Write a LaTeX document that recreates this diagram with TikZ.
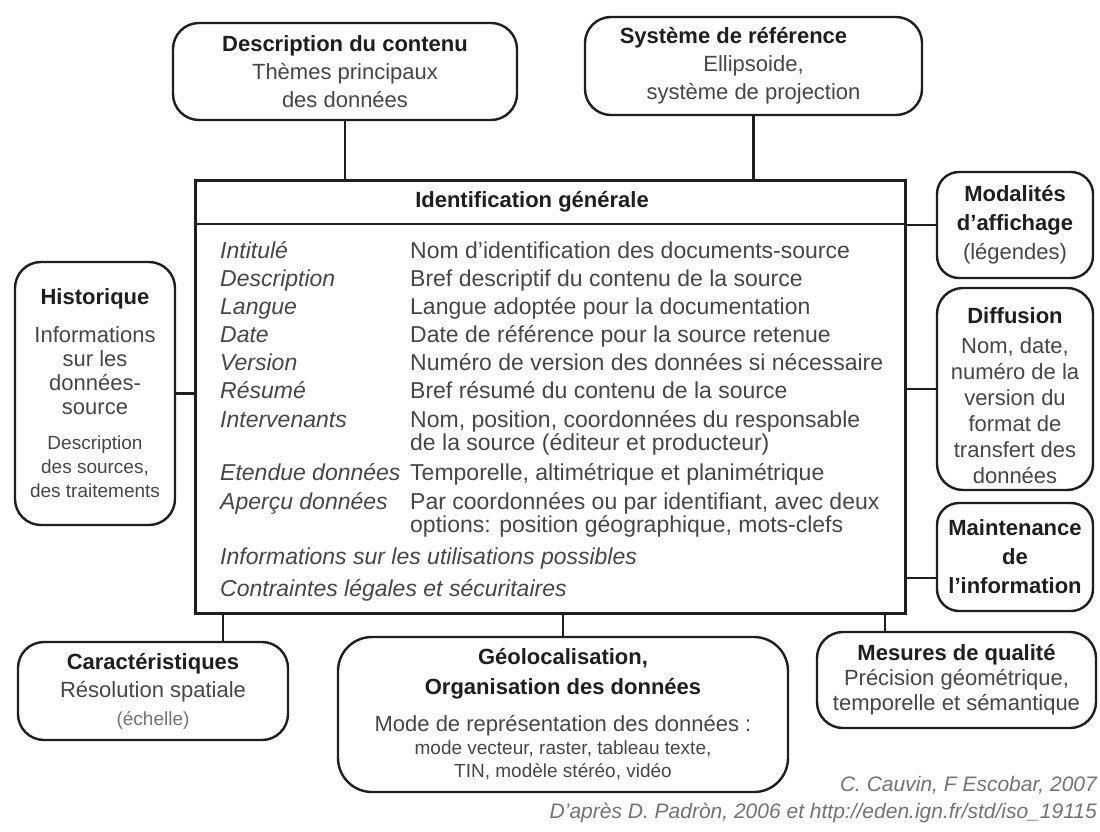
\documentclass[tikz,border=0pt]{standalone}
\usepackage{fontspec}
\setmainfont{Liberation Sans}
\usepackage{xcolor}
\usepackage{tikz}
\usetikzlibrary{positioning}
\definecolor{InkDark}{RGB}{30, 30, 30}
\definecolor{InkBody}{RGB}{70, 70, 70}
\definecolor{InkLight}{RGB}{115, 115, 115}
\newcommand{\txtsmall}{\fontsize{19}{23}\selectfont}
\newcommand{\ttl}[1]{{\bfseries\color{InkDark}#1}}

\begin{document}
\begin{tikzpicture}[x=1pt, y=-1pt,
  card/.style={draw=InkDark, line width=2.4pt, rounded corners=26pt,
    inner sep=0pt, align=center, text=InkBody,
    font=\fontsize{22}{28}\selectfont},
  link/.style={draw=InkDark, line width=2.2pt},
  key/.style={anchor=base west, inner sep=0pt, text=InkBody,
    font=\itshape\fontsize{23}{23}\selectfont},
  val/.style={anchor=base west, inner sep=0pt, align=left, text=InkBody,
    font=\fontsize{23}{23}\selectfont},
  credit/.style={anchor=east, inner sep=0pt, text=InkLight,
    font=\itshape\fontsize{21}{21}\selectfont}
]
\useasboundingbox[fill=white] (0,0) rectangle (1100,832);

% top boxes
\node[card, minimum width=344pt, minimum height=97pt] (desc) at (345,71.5)
  {\ttl{Description du contenu}\\Thèmes principaux\\des données};
\node[card, minimum width=337pt, minimum height=98pt] (sys) at (753.5,66)
  {\ttl{Système de référence}\hspace*{40pt}\\Ellipsoide,\\système de projection};

% central box
\node[draw=InkDark, line width=3pt, minimum width=710pt, minimum height=433pt,
  inner sep=0pt] (main) at (550,396.5) {};
\coordinate (hdr) at (0,224);
\draw[line width=2.6pt, InkDark] (main.west |- hdr) -- (main.east |- hdr);
\node[inner sep=0pt, text=InkDark, font=\bfseries\fontsize{22}{22}\selectfont]
  (hdrtxt) at (532,202) {Identification générale};

\node[key] (k1)  at (220,258) {Intitulé};
\node[key] (k2)  at (220,286) {Description};
\node[key] (k3)  at (220,314) {Langue};
\node[key] (k4)  at (220,342) {Date};
\node[key] (k5)  at (220,370) {Version};
\node[key] (k6)  at (220,398) {Résumé};
\node[key] (k7)  at (220,427) {Intervenants};
\node[key] (k8)  at (220,480) {Etendue données};
\node[key] (k9)  at (220,509) {Aperçu données};
\node[key] (k10) at (220,564) {Informations sur les utilisations possibles};
\node[key] (k11) at (220,596) {Contraintes légales et sécuritaires};

\node[val] (v1) at (410,258) {Nom d'identification des documents-source};
\node[val] (v2) at (410,286) {Bref descriptif du contenu de la source};
\node[val] (v3) at (410,314) {Langue adoptée pour la documentation};
\node[val] (v4) at (410,342) {Date de référence pour la source retenue};
\node[val] (v5) at (410,370) {Numéro de version des données si nécessaire};
\node[val] (v6) at (410,398) {Bref résumé du contenu de la source};
\node[val] (v7) at (410,450) {Nom, position, coordonnées du responsable\\de la source (éditeur et producteur)};
\node[val] (v8) at (410,480) {Temporelle, altimétrique et planimétrique};
\node[val] (v9) at (410,532) {Par coordonnées ou par identifiant, avec deux\\options: position géographique, mots-clefs};

% side boxes
\node[card, minimum width=160pt, minimum height=263pt, font=\fontsize{22}{24}\selectfont]
  (hist) at (95,393.5)
  {\ttl{Historique}\\[14pt]Informations\\sur les\\données-\\source\\[11pt]
   {\txtsmall Description}\\{\txtsmall des sources,}\\{\txtsmall des traitements}};
\node[card, rounded corners=22pt, minimum width=156pt, minimum height=106pt,
  font=\fontsize{22}{29}\selectfont] (mod) at (1015,225)
  {\ttl{Modalités}\\\ttl{d'affichage}\\(légendes)};
\node[card, minimum width=156pt, minimum height=202pt,
  font=\fontsize{22}{26}\selectfont] (diff) at (1015,389)
  {\rule{0pt}{30pt}\ttl{Diffusion}\\[4pt]Nom, date,\\numéro de la\\version du\\format de\\transfert des\\données};
\node[card, rounded corners=22pt, minimum width=156pt, minimum height=108pt,
  font=\fontsize{22}{29}\selectfont] (maint) at (1015,557)
  {\ttl{Maintenance}\\\ttl{de}\\\ttl{l'information}};

% bottom boxes
\node[card, minimum width=270pt, minimum height=98pt] (carac) at (153,691)
  {\ttl{Caractéristiques}\\Résolution spatiale\\{\txtsmall\color{InkLight}(échelle)}};
\node[card, rounded corners=34pt, minimum width=450pt, minimum height=155pt,
  font=\fontsize{22}{23}\selectfont] (geo) at (563,714.5)
  {\ttl{Géolocalisation,}\\[7pt]\ttl{Organisation des données}\\[14pt]
   Mode de représentation des données :\\{\txtsmall mode vecteur, raster, tableau texte,}\\
   {\txtsmall TIN, modèle stéréo, vidéo}};
\node[card, minimum width=279pt, minimum height=96pt,
  font=\fontsize{22}{25}\selectfont] (mes) at (956.5,680)
  {\ttl{Mesures de qualité}\\Précision géométrique,\\temporelle et sémantique};

% connectors
\coordinate (cartop) at ([xshift=70pt]carac.north);
\coordinate (mestop) at ([xshift=-71.5pt]mes.north);
\draw[link] (desc.south) -- (desc.south |- main.north);
\draw[link] (sys.south) -- (sys.south |- main.north);
\draw[link] (hist.east) -- (hist.east -| main.west);
\draw[link] (mod.west) -- (mod.west -| main.east);
\draw[link] (diff.west) -- (diff.west -| main.east);
\draw[link] ([yshift=-21pt]maint.west) -- ([yshift=-21pt]maint.west -| main.east);
\draw[link] (cartop) -- (cartop |- main.south);
\draw[link] (geo.north) -- (geo.north |- main.south);
\draw[link] (mestop) -- (mestop |- main.south);

% source
\node[credit] (cred1) at (1097,785) {C. Cauvin, F Escobar, 2007};
\node[credit] (cred2) at (1097,813) {D'après D. Padròn, 2006 et http://eden.ign.fr/std/iso\_19115};
\end{tikzpicture}
\end{document}
